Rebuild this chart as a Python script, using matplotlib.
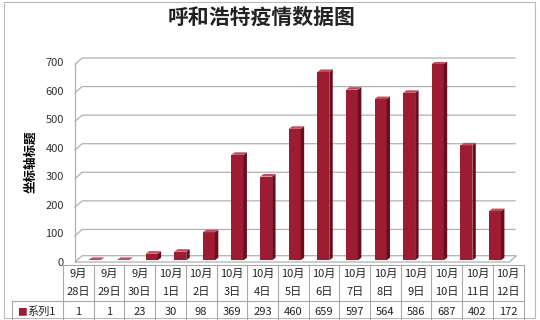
import matplotlib
matplotlib.use("Agg")
import matplotlib.pyplot as plt
from matplotlib.patches import Polygon, Rectangle

plt.rcParams['font.family'] = ['Noto Sans CJK SC', 'DejaVu Sans']

title = "呼和浩特疫情数据图"
y_label = "坐标轴标题"
series_name = "系列1"
months = ["9月", "9月", "9月", "10月", "10月", "10月", "10月", "10月",
          "10月", "10月", "10月", "10月", "10月", "10月", "10月"]
days = ["28日", "29日", "30日", "1日", "2日", "3日", "4日", "5日",
        "6日", "7日", "8日", "9日", "10日", "11日", "12日"]
values = [1, 1, 23, 30, 98, 369, 293, 460, 659, 597, 564, 586, 687, 402, 172]
y_ticks = [0, 100, 200, 300, 400, 500, 600, 700]

W, H = 540, 320
fig = plt.figure(figsize=(W / 100, H / 100), dpi=100)


def fx(px):
    return px / W


def fy(py):
    return 1 - py / H


# outer chart frame
fig.add_artist(Rectangle((fx(4), fy(318)), fx(531), 316 / H, transform=fig.transFigure,
                         fill=False, ec="#b8b8b8", lw=0.8))

ax = fig.add_axes([fx(75), fy(262), fx(440), 200 / H])
ax.set_xlim(-0.63, 14.75)
ax.set_ylim(0, 700)
for s in ax.spines.values():
    s.set_visible(False)
ax.set_xticks([])
ax.set_yticks(y_ticks)
ax.tick_params(axis="y", length=0, labelsize=8, labelcolor="#333333", pad=8)

# depth of the 3d walls (data units)
ddx, ddy = 0.25, 22
x0, x1 = -0.63, 14.75
grid_c = "#b0b0b0"
for t in y_ticks[1:]:
    ax.plot([x0, x0 + ddx, x1], [t - 8, t - 8 + ddy, t - 8 + ddy], color=grid_c,
            lw=0.9, clip_on=False, zorder=1)
# left wall edge
ax.plot([x0, x0], [0, 692], color=grid_c, lw=0.9, clip_on=False, zorder=1)
# floor
floor = Polygon([[x0, 0], [x1 - 0.2, 0], [x1 + 0.05, ddy], [x0 + ddx, ddy]],
                closed=True, fc="white", ec=grid_c, lw=0.9, clip_on=False, zorder=1)
ax.add_patch(floor)

# bars with a little 3d look
bw = 0.42
sx, sy = 0.12, 9
front_c, side_c, top_c = "#9e1c31", "#680e1d", "#c64a5d"
for i, v in enumerate(values):
    xl = i - bw / 2 + 0.05
    base = 6
    ax.add_patch(Rectangle((xl, base), bw, v, fc=front_c, ec="none", zorder=3))
    ax.add_patch(Polygon([[xl + bw, base], [xl + bw + sx, base + sy],
                          [xl + bw + sx, base + v + sy], [xl + bw, base + v]],
                         closed=True, fc=side_c, ec="none", zorder=3))
    ax.add_patch(Polygon([[xl, base + v], [xl + bw, base + v],
                          [xl + bw + sx, base + v + sy], [xl + sx, base + v + sy]],
                         closed=True, fc=top_c, ec="none", zorder=3))

ax.set_ylabel(y_label, fontsize=9, fontweight="bold")
ax.yaxis.set_label_coords(-0.085, 0.5)

fig.text(fx(262), fy(17), title, ha="center", va="center", fontsize=15,
         fontweight="bold", color="#222222")

# data table below the chart
col_l, col_w = 63, 30.7
top_y, mid_y, bot_y = 265, 301, 337
line_c = "#a8a8a8"
n = len(values)
right = col_l + n * col_w


def hline(y, xa, xb):
    fig.add_artist(plt.Line2D([fx(xa), fx(xb)], [fy(y), fy(y)], color=line_c, lw=0.8))


def vline(x, ya, yb):
    fig.add_artist(plt.Line2D([fx(x), fx(x)], [fy(ya), fy(yb)], color=line_c, lw=0.8))


hline(top_y, col_l, right)
hline(mid_y, 12, right)
vline(12, mid_y, bot_y)
for k in range(n + 1):
    vline(col_l + k * col_w, top_y, bot_y)

for k in range(n):
    cx = col_l + (k + 0.5) * col_w
    fig.text(fx(cx), fy(274), months[k], ha="center", va="center", fontsize=8, color="#222222")
    fig.text(fx(cx), fy(292), days[k], ha="center", va="center", fontsize=8, color="#222222")
    fig.text(fx(cx), fy(312), str(values[k]), ha="center", va="center", fontsize=8,
             color="#222222")

fig.text(fx(17), fy(312), "■", ha="left", va="center", fontsize=7, color=front_c)
fig.text(fx(27), fy(312), series_name, ha="left", va="center", fontsize=8, color="#222222")

fig.savefig("out.png", dpi=100)
